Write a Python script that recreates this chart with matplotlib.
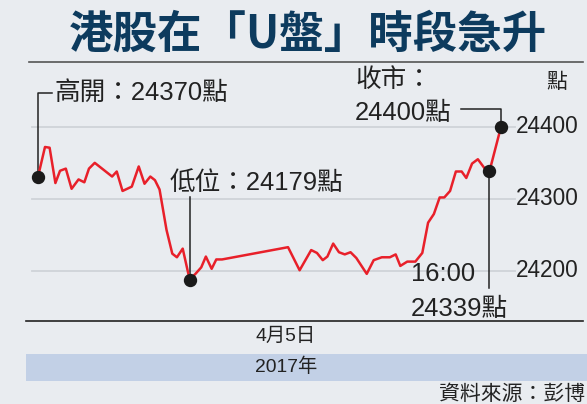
import matplotlib.pyplot as plt
from matplotlib import font_manager
from matplotlib.patches import Rectangle
from matplotlib.lines import Line2D

# minutes after 09:30 and index level
minutes = [0, 6, 10, 15, 19, 24, 29, 35, 40, 44, 49, 64, 68, 73, 81, 87, 92, 97, 101, 105,
           111, 116, 120, 125, 131, 136, 141, 145, 150, 154, 159,
           216, 226, 236, 241, 246, 250, 255, 260, 265, 270, 275, 284, 290, 297, 304, 309,
           313, 319, 326, 332, 337, 342, 347, 351, 356, 361, 366, 370, 375, 380, 386, 390, 400]
levels = [24331, 24372, 24371, 24322, 24339, 24342, 24314, 24327, 24323, 24342, 24350,
          24331, 24338, 24311, 24317, 24345, 24321, 24331, 24326, 24313,
          24257, 24224, 24219, 24231, 24188, 24196, 24205, 24220, 24203, 24216, 24216,
          24233, 24201, 24229, 24225, 24215, 24220, 24238, 24226, 24223, 24226, 24218,
          24196, 24215, 24219, 24219, 24223, 24207, 24213, 24213, 24225, 24267, 24279,
          24302, 24302, 24311, 24338, 24338, 24329, 24349, 24355, 24342, 24338, 24400]
yticks = [24200, 24300, 24400]

title = "港股在「U盤」時段急升"
open_label = "高開：24370點"
low_label = "低位：24179點"
close_label = ["收市：", "24400點"]
t1600_label = ["16:00", "24339點"]
date_label = "4月5日"
year_label = "2017年"
source = "資料來源：彭博"

# condensed font if there is one, otherwise a regular one a bit smaller
names = {f.name for f in font_manager.fontManager.ttflist}
if 'Liberation Sans Narrow' in names:
    latin, k = 'Liberation Sans Narrow', 1.0
else:
    latin, k = 'Liberation Sans', 0.86
cjk = 'Noto Sans CJK TC'
fam = [latin, cjk]
fs_tick = 19 * k
fs_note = 21.5 * k

bg = '#e9ecf0'
red = '#e8202a'
dark = '#222222'

W, H = 587, 404
fig = plt.figure(figsize=(W / 100, H / 100), dpi=100, facecolor=bg)


def fx(px):
    return px / W


def fy(py):
    return 1 - py / H


ax = fig.add_axes([fx(26), fy(321), fx(587) - fx(26), fy(62) - fy(321)])
ax.set_facecolor('none')
ax.set_xlim(-10.4, 474.3)
ax.set_ylim(24130.6, 24489.9)
ax.axis('off')


def p2d(px, py):
    return ax.transData.inverted().transform((px, H - py))


# gridlines + right-side labels
for v in yticks:
    ax.axhline(v, xmin=0.011, xmax=0.872, color='#cfd3d8', lw=1.3, zorder=1)
    ax.text(0.873, v, str(v), transform=ax.get_yaxis_transform(), ha='left',
            va='center', fontsize=fs_tick, family=fam, color=dark)
fig.text(fx(557), fy(82), "點", ha='center', va='center', fontsize=15,
         family=cjk, color=dark)

ax.plot(minutes, levels, color=red, lw=1.8, zorder=3)

# open
t0, v0 = minutes[0], levels[0]
_, vy = p2d(0, 93)
tx, _ = p2d(52, 0)
ax.plot([t0, t0, tx], [v0, vy, vy], color=dark, lw=1.1, zorder=2)
fig.text(fx(55), fy(93), open_label, ha='left', va='center', fontsize=fs_note,
         family=fam, color=dark)

# low
i_low = levels.index(min(levels))
_, vy = p2d(0, 197)
ax.plot([minutes[i_low]] * 2, [levels[i_low], vy], color=dark, lw=1.1, zorder=2)
fig.text(fx(170), fy(183), low_label, ha='left', va='center', fontsize=fs_note,
         family=fam, color=dark)

# close
tc, vc = minutes[-1], levels[-1]
_, vy = p2d(0, 109.3)
tx, _ = p2d(461, 0)
ax.plot([tc, tc, tx], [vc, vy, vy], color=dark, lw=1.1, zorder=2)
fig.text(fx(355), fy(80), close_label[0], ha='left', va='center', fontsize=fs_note,
         family=fam, color=dark)
fig.text(fx(355), fy(113), close_label[1], ha='left', va='center', fontsize=fs_note,
         family=fam, color=dark)

# 16:00
t16, v16 = minutes[-2], levels[-2]
_, vy = p2d(0, 288)
ax.plot([t16, t16], [v16, vy], color=dark, lw=1.1, zorder=2)
fig.text(fx(411), fy(274), t1600_label[0], ha='left', va='center', fontsize=fs_note,
         family=fam, color=dark)
fig.text(fx(411), fy(308.5), t1600_label[1], ha='left', va='center', fontsize=fs_note,
         family=fam, color=dark)

ax.plot([t0, minutes[i_low], t16, tc], [v0, levels[i_low], v16, vc], 'o',
        color='#1a1a1a', ms=8.6, zorder=4)

# frame lines, band, labels
fig.add_artist(Line2D([fx(29), fx(583)], [fy(62), fy(62)], color='#555555', lw=1.2))
fig.add_artist(Line2D([fx(26), fx(583)], [fy(320.7), fy(320.7)], color=dark, lw=1.2))
fig.add_artist(Rectangle((fx(26), fy(381)), fx(587) - fx(26), fy(354) - fy(381),
                         transform=fig.transFigure, color='#c2d0e6', lw=0))
fig.text(fx(286), fy(336), date_label, ha='center', va='center', fontsize=15 * k + 1,
         family=fam, color=dark)
fig.text(fx(286), fy(367), year_label, ha='center', va='center', fontsize=15 * k + 1,
         family=fam, color=dark)
fig.text(fx(585), fy(394), source, ha='right', va='center', fontsize=15,
         family=cjk, color=dark)

fig.text(fx(307.5), fy(35), title, ha='center', va='center', fontsize=32,
         family=cjk, fontweight='bold', color='#0d3b5e')

fig.savefig('out.png', dpi=100, facecolor=bg)
